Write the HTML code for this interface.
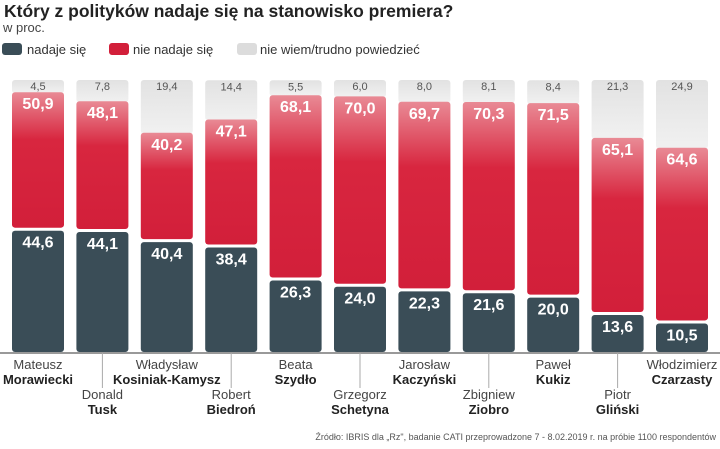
<!DOCTYPE html>
<html><head><meta charset="utf-8"><style>
body{margin:0;width:720px;height:444px;background:#fff;overflow:hidden;font-family:"Liberation Sans","DejaVu Sans",sans-serif}
</style></head><body>
<svg id="c" width="720" height="444" xmlns="http://www.w3.org/2000/svg">
<defs>
<linearGradient id="gr" x1="0" y1="0" x2="0" y2="1"><stop offset="0" stop-color="#e98a95"/><stop offset="0.35" stop-color="#d8263f"/><stop offset="1" stop-color="#d21f3a"/></linearGradient>
<linearGradient id="gg" x1="0" y1="0" x2="0" y2="1"><stop offset="0" stop-color="#e2e2e2"/><stop offset="1" stop-color="#f1f1f1"/></linearGradient>
</defs>
<text x="4" y="17" font-size="17.5" font-weight="bold" fill="#222">Który z polityków nadaje się na stanowisko premiera?</text>
<text x="3" y="32" font-size="13" fill="#444">w proc.</text>
<g>
<rect x="2" y="43" width="20" height="12" rx="3" fill="#3a4d57"/>
<text x="27" y="54" font-size="13" fill="#333">nadaje się</text>
<rect x="109" y="43" width="20" height="12" rx="3" fill="#d21f3a"/>
<text x="133" y="54" font-size="13" fill="#333">nie nadaje się</text>
<rect x="237" y="43" width="20" height="12" rx="3" fill="#dcdcdc"/>
<text x="260" y="54" font-size="13" fill="#333">nie wiem/trudno powiedzieć</text>
</g>
<line x1="0" y1="353" x2="720" y2="353" stroke="#333" stroke-width="1"/>
<g id="bars"></g>
<text x="716" y="440" font-size="9" fill="#555" text-anchor="end">Źródło: IBRIS dla „Rz", badanie CATI przeprowadzone 7 - 8.02.2019 r. na próbie 1100 respondentów</text>
</svg>
<script>
const firstNames=["Mateusz","Donald","Władysław","Robert","Beata","Grzegorz","Jarosław","Zbigniew","Paweł","Piotr","Włodzimierz"];
const lastNames=["Morawiecki","Tusk","Kosiniak-Kamysz","Biedroń","Szydło","Schetyna","Kaczyński","Ziobro","Kukiz","Gliński","Czarzasty"];
const yesVals=[44.6,44.1,40.4,38.4,26.3,24.0,22.3,21.6,20.0,13.6,10.5];
const noVals=[50.9,48.1,40.2,47.1,68.1,70.0,69.7,70.3,71.5,65.1,64.6];
const dkVals=[4.5,7.8,19.4,14.4,5.5,6.0,8.0,8.1,8.4,21.3,24.9];
const NS="http://www.w3.org/2000/svg";
const g=document.getElementById('bars');
const y0=352,k=2.72,x0=12,pitch=64.4,bw=52,gap=3;
const fmt=v=>v.toFixed(1).replace('.',',');
function mk(t,a){const e=document.createElementNS(NS,t);for(const n in a)e.setAttribute(n,a[n]);g.appendChild(e);return e;}
yesVals.forEach((yv,i)=>{
  const x=x0+i*pitch,cx=x+bw/2;
  const yTop=y0-yv*k,nTop=y0-(yv+noVals[i])*k,dTop=y0-(yv+noVals[i]+dkVals[i])*k;
  let r=mk('rect',{x:x,y:dTop,width:bw,height:nTop-dTop-gap+4,rx:3,fill:'url(#gg)'});
  
  
  r=mk('rect',{x:x,y:nTop,width:bw,height:yTop-nTop-gap,rx:3,fill:'url(#gr)'});
  
  
  r=mk('rect',{x:x,y:yTop,width:bw,height:y0-yTop,rx:3,fill:'#3a4d57'});
  
  
  let t=mk('text',{x:cx,y:dTop+10,'font-size':11,fill:'#555','text-anchor':'middle'});t.textContent=fmt(dkVals[i]);
  
  
  t=mk('text',{x:cx,y:nTop+17,'font-size':16,'font-weight':'bold',fill:'#fff','text-anchor':'middle'});t.textContent=fmt(noVals[i]);
  
  
  t=mk('text',{x:cx,y:yTop+17,'font-size':16,'font-weight':'bold',fill:'#fff','text-anchor':'middle'});t.textContent=fmt(yv);
  
  
  const low=i%2===1;
  if(low){const l=mk('line',{x1:cx,y1:353,x2:cx,y2:388,stroke:'#aaa','stroke-width':1});
    
    }
  const fy=low?399:369;
  t=mk('text',{x:cx,y:fy,'font-size':13,fill:'#444','text-anchor':'middle'});t.textContent=firstNames[i];
  
  
  t=mk('text',{x:cx,y:fy+15,'font-size':13,'font-weight':'bold',fill:'#222','text-anchor':'middle'});t.textContent=lastNames[i];
  
  
});
</script>
</body></html>
